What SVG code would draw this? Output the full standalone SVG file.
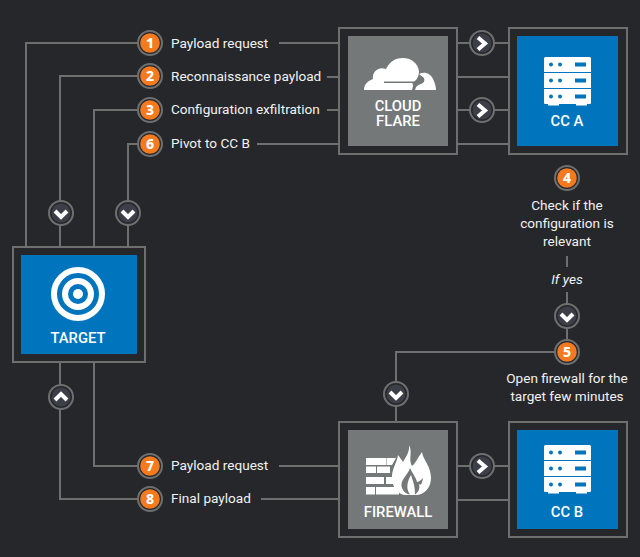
<svg xmlns="http://www.w3.org/2000/svg" width="640" height="557" viewBox="0 0 640 557">
<defs>
<style>
.ln{fill:none;stroke:#6e7070;stroke-width:2}
.frame{fill:#26272a;stroke:#6e7070;stroke-width:2}
.blue{fill:#0075be}
.gray{fill:#757878}
.lb{font-family:Roboto,"Liberation Sans",sans-serif;font-size:13.6px;fill:#f2f2f2}
.mid{text-anchor:middle}
.tt{font-family:Roboto,"Liberation Sans",sans-serif;font-size:14.8px;font-weight:500;fill:#fff;text-anchor:middle}
.num{font-family:"Noto Sans","Liberation Sans",sans-serif;font-size:14px;font-weight:800;fill:#fff;text-anchor:middle}
.ring{fill:#26272a;stroke:#6e7070;stroke-width:2}
.ora{fill:#f47a20}
.drk{fill:#3d3f48}
.chev{fill:none;stroke:#fff;stroke-width:4}
.w{fill:#fff}
.bl{fill:#0075be}
</style>
<g id="srv">
<path class="w" d="M0 1.500Q0 0 1.500 0H45.500Q47 0 47 1.500V15H0Z"/>
<circle class="bl" cx="7" cy="7.500" r="2"/><circle class="bl" cx="16" cy="7.500" r="2"/><rect class="bl" x="31" y="5.500" width="11" height="4"/>
<rect class="w" y="16" width="47" height="15"/>
<circle class="bl" cx="7" cy="23.500" r="2"/><circle class="bl" cx="16" cy="23.500" r="2"/><rect class="bl" x="31" y="21.500" width="11" height="4"/>
<path class="w" d="M0 32H47V46Q47 47 45.500 47H43V48.500H32V47H15V48.500H4V47H1.500Q0 47 0 46Z"/>
<circle class="bl" cx="7" cy="39.500" r="2"/><circle class="bl" cx="16" cy="39.500" r="2"/><rect class="bl" x="31" y="37.500" width="11" height="4"/>
</g>
<g id="ab"><circle class="ring" r="12"/><circle class="drk" r="9.500"/></g>
<g id="bb"><circle class="ring" r="12"/><circle class="ora" r="9.800"/></g>
</defs>
<rect width="640" height="557" fill="#26272a"/>
<g id="connectors">
<path class="ln" d="M26 247V43H138M279 43H339M457 43H509"/>
<path class="ln" d="M60 247V76H138M327 77H339M457 77H509"/>
<path class="ln" d="M94 247V110H138M327 110H339M457 110H509"/>
<path class="ln" d="M128 247V144H138M257 144H339M457 144H509"/>
<path class="ln" d="M94 362V466H138M279 466H339M457 466H509"/>
<path class="ln" d="M60 362V499H138M261 499H339M457 500H509"/>
<path class="ln" d="M567 256V267M567 292V352M555 352H396V422"/>
</g>
<g id="target"><rect class="frame" x="13" y="247" width="132" height="115"/><rect class="blue" x="21" y="255" width="116" height="99"/>
<circle cx="78" cy="294" r="24" fill="none" stroke="#fff" stroke-width="6"/><circle cx="78" cy="294" r="13" fill="none" stroke="#fff" stroke-width="6"/><circle cx="78" cy="294" r="5" fill="#fff"/>
<text class="tt" x="78" y="343">TARGET</text></g>
<g id="cloudflare"><rect class="frame" x="339" y="28" width="118" height="126"/><rect class="gray" x="348" y="36" width="100" height="110"/>
<path class="w" d="M364 90C364 84 368 81 373 79C372 72 378 66 386 69C390 61 396 58 403 58C412 58 418 64 419 71C419 76 417 80 414 81.500H384V83H412.500L413 86L412 90Z"/>
<path class="w" d="M415 90C416 86 418 85 421 84C424 83 425 81 424 78L419 74C425 71 431 74 433 79C435 83 436 87 436 90Z"/>
<text class="tt" x="398" y="111">CLOUD</text><text class="tt" x="398" y="125.500">FLARE</text></g>
<g id="cc-a"><rect class="frame" x="509" y="28" width="118" height="126"/><rect class="blue" x="517" y="36" width="101" height="110"/>
<use href="#srv" x="544" y="57"/><text class="tt" x="567" y="125.500">CC A</text></g>
<g id="firewall"><rect class="frame" x="339" y="422" width="118" height="115"/><rect class="gray" x="348" y="430" width="100" height="99"/>
<path class="w" d="M366 458H386V465H366ZM386.500 458H396L392 465H386.500ZM366 466.500H376V473H366ZM377 466.500H390V473H377ZM366 477H384V484H366ZM366 487H375V494.500H366ZM376 487H399V494.500H376ZM386 477H392L397 484H386Z"/>
<path class="w" d="M409 445C413 452 408 459 412 466C415 464 417 459 422 452C423 460 431 466 431 478C431 488 424 495 416 495H404C396 493 392 486 392 477C392 468 397 463 398 455C400 458 402 460 403 462C406 457 410 451 409 445Z"/>
<path fill="#757878" d="M410 468C407 477 398 481 403 490C405 493 407 494 410 494.500C405 488 408 480 411 475C413 481 415 486 415 494.500C419 492 420 488 419 484C422 486 422 482 423 478C420 481 418 482 417 482C416 477 412 473 410 468Z"/>
<text class="tt" x="398" y="516.500">FIREWALL</text></g>
<g id="cc-b"><rect class="frame" x="509" y="422" width="118" height="115"/><rect class="blue" x="517" y="430" width="101" height="99"/>
<use href="#srv" x="544" y="445"/><text class="tt" x="567" y="516.500">CC B</text></g>
<g id="arrows">
<use href="#ab" x="482" y="43"/><path class="chev" d="M478 37.500L485 43.500L478 49.500"/>
<use href="#ab" x="482" y="110"/><path class="chev" d="M478 104.500L485 110.500L478 116.500"/>
<use href="#ab" x="482" y="466"/><path class="chev" d="M478 460.500L485 466.500L478 472.500"/>
<use href="#ab" x="61" y="213"/><path class="chev" d="M55 211L61 217L67 211"/>
<use href="#ab" x="128" y="213"/><path class="chev" d="M122 211L128 217L134 211"/>
<use href="#ab" x="396" y="394"/><path class="chev" d="M390 392L396 398L402 392"/>
<use href="#ab" x="567" y="316"/><path class="chev" d="M561 314L567 320L573 314"/>
<use href="#ab" x="61" y="397"/><path class="chev" d="M55 400L61 394L67 400"/>
</g>
<g id="step-1"><use href="#bb" x="150" y="43"/><text class="num" x="150" y="48">1</text><text class="lb" x="171" y="48">Payload request</text></g>
<g id="step-2"><use href="#bb" x="150" y="76"/><text class="num" x="150" y="81">2</text><text class="lb" x="171" y="81">Reconnaissance payload</text></g>
<g id="step-3"><use href="#bb" x="150" y="110"/><text class="num" x="150" y="115">3</text><text class="lb" x="171" y="114">Configuration exfiltration</text></g>
<g id="step-6"><use href="#bb" x="150" y="144"/><text class="num" x="150" y="149">6</text><text class="lb" x="171" y="148">Pivot to CC B</text></g>
<g id="step-4"><use href="#bb" x="567" y="178"/><text class="num" x="567" y="183">4</text>
<text class="lb mid" x="567" y="210">Check if the</text><text class="lb mid" x="567" y="228">configuration is</text><text class="lb mid" x="567" y="246">relevant</text>
<text class="lb mid" x="567" y="284" font-style="italic">If yes</text></g>
<g id="step-5"><use href="#bb" x="567" y="352"/><text class="num" x="567" y="357">5</text>
<text class="lb mid" x="567" y="383">Open firewall for the</text><text class="lb mid" x="567" y="401">target few minutes</text></g>
<g id="step-7"><use href="#bb" x="150" y="466"/><text class="num" x="150" y="471">7</text><text class="lb" x="171" y="470">Payload request</text></g>
<g id="step-8"><use href="#bb" x="150" y="499"/><text class="num" x="150" y="504">8</text><text class="lb" x="171" y="503">Final payload</text></g>
</svg>
